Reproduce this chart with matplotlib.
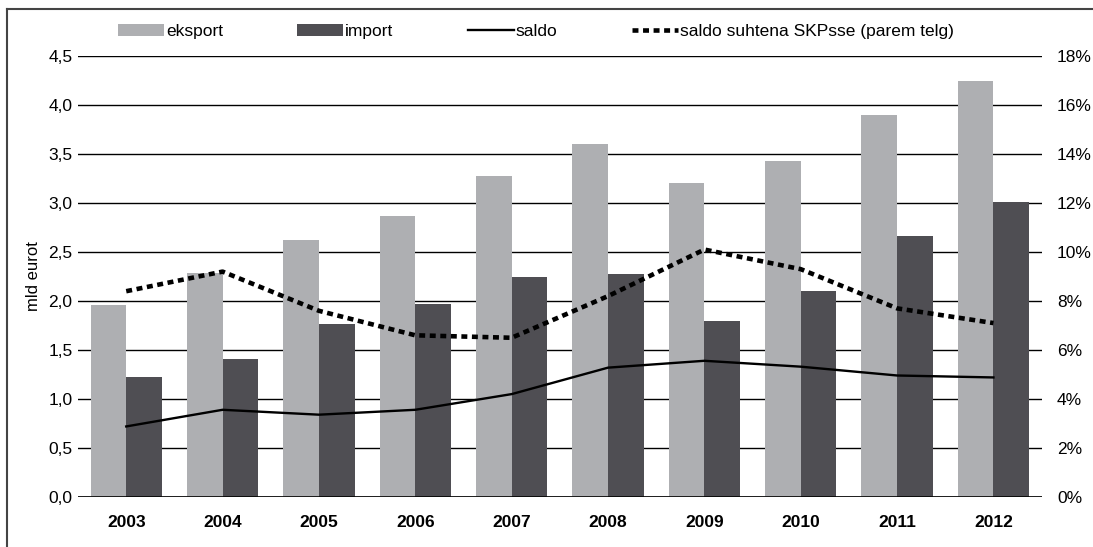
import matplotlib.pyplot as plt
import numpy as np
from matplotlib.lines import Line2D
from matplotlib.ticker import FuncFormatter

plt.rcParams['font.family'] = ['Liberation Sans', 'DejaVu Sans']

# data
years = ['2003', '2004', '2005', '2006', '2007', '2008', '2009', '2010', '2011', '2012']
eksport = [1.96, 2.29, 2.62, 2.87, 3.28, 3.60, 3.20, 3.43, 3.90, 4.24]
imports = [1.22, 1.41, 1.77, 1.97, 2.24, 2.28, 1.80, 2.10, 2.66, 3.01]
saldo = [0.72, 0.89, 0.84, 0.89, 1.05, 1.32, 1.39, 1.33, 1.24, 1.22]
saldo_skp = [8.4, 9.2, 7.6, 6.6, 6.5, 8.2, 10.1, 9.3, 7.7, 7.1]  # % of GDP, right axis

c_eks = '#aeafb2'
c_imp = '#4f4e53'
fs = 12.5

fig = plt.figure(figsize=(10.93, 5.47), dpi=100)
ax = fig.add_axes([0.0714, 0.0914, 0.8816, 0.8062])
ax2 = ax.twinx()

x = np.arange(len(years))
w = 0.37
ax.set_axisbelow(True)
b1 = ax.bar(x - w / 2, eksport, w, color=c_eks, label='eksport', zorder=2)
b2 = ax.bar(x + w / 2, imports, w, color=c_imp, label='import', zorder=2)
l1, = ax.plot(x, saldo, color='black', lw=1.7, label='saldo', zorder=3)
l2, = ax2.plot(x, saldo_skp, color='black', lw=3.3, linestyle=(0, (1.3, 1.0)),
               dash_capstyle='butt', label='saldo suhtena SKPsse (parem telg)', zorder=3)

ax.set_xlim(-0.5, 9.5)
ax.set_ylim(0, 4.5)
ax2.set_ylim(0, 18)
ax.set_yticks(np.arange(0, 4.51, 0.5))
ax2.set_yticks(np.arange(0, 18.1, 2))
ax.yaxis.set_major_formatter(FuncFormatter(lambda v, p: f'{v:.1f}'.replace('.', ',')))
ax2.yaxis.set_major_formatter(FuncFormatter(lambda v, p: f'{v:.0f}%'))
ax.grid(axis='y', color='black', lw=1.0, zorder=1)
ax.set_xticks(x)
ax.set_xticklabels(years, fontweight='bold', fontsize=fs)
ax.tick_params(axis='x', length=0, pad=13)
ax.tick_params(axis='y', length=0, pad=4, labelsize=fs)
ax2.tick_params(axis='y', length=0, pad=11, labelsize=fs)
for a in (ax, ax2):
    for s in a.spines.values():
        s.set_visible(False)
ax.set_ylabel('mld eurot', fontsize=12, labelpad=5)
ax.axhline(0, color='black', lw=1.2, zorder=4)

fig.legend([b1, b2, l1, l2], [b1.get_label(), b2.get_label(), l1.get_label(), l2.get_label()],
           loc='center left', bbox_to_anchor=(0.108, 0.943), borderaxespad=0, borderpad=0,
           ncol=4, frameon=False, fontsize=fs, handlelength=2.65,
           handletextpad=0.1, columnspacing=4.3)

# outer frame (left and top edges visible)
fig.add_artist(Line2D([0.0064, 0.0064], [0, 0.9835], color='#444444', lw=1.5))
fig.add_artist(Line2D([0.0064, 1], [0.9835, 0.9835], color='#444444', lw=1.5))

fig.savefig('out.png', dpi=100)
